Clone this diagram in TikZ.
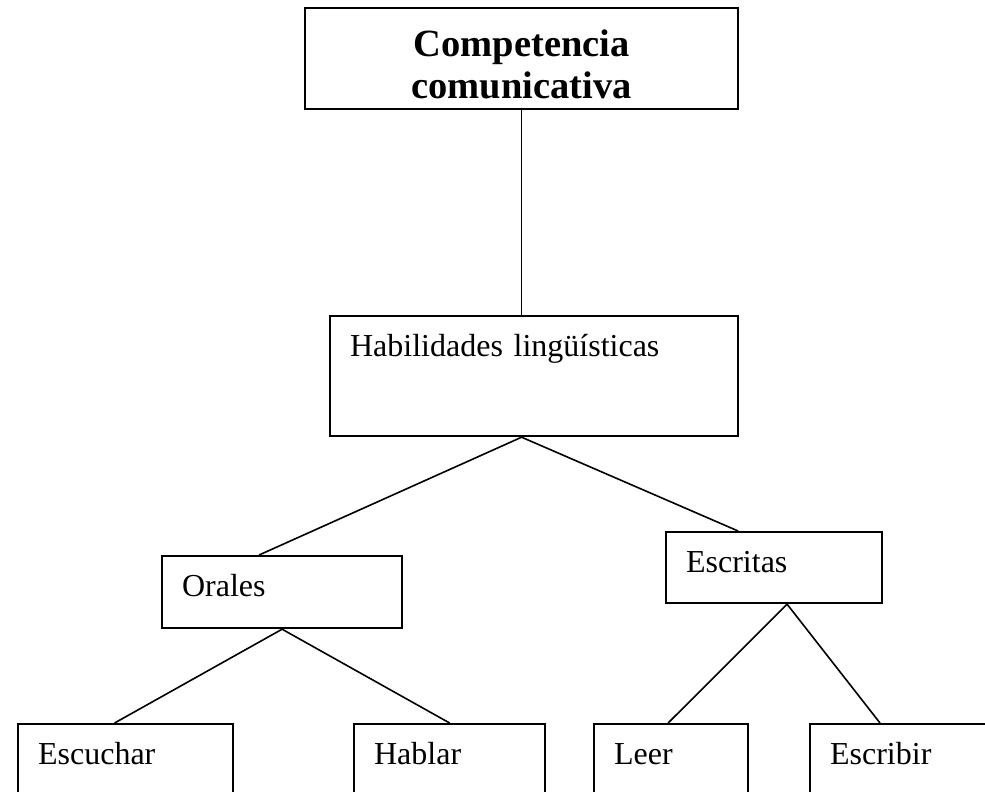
\documentclass[tikz,border=0pt]{standalone}
\usepackage{fontspec}
\setmainfont{Liberation Serif}
\usepackage{tikz}
\usetikzlibrary{positioning,calc}
\tikzstyle{caja} = [draw, line width=2.2pt, rectangle, anchor=north west, inner ysep=0pt, inner xsep=20pt, text height=40pt, align=left, font=\fontsize{32}{38}\selectfont]
\tikzstyle{titulo} = [caja, align=center, text height=48pt, font=\bfseries\fontsize{38.5}{42}\selectfont]
\tikzstyle{linea} = [line width=1.6pt]

\begin{document}
\begin{tikzpicture}[x=1pt, y=-1pt]
\useasboundingbox (0,0) rectangle (985,792);

% Boxes
\node[titulo, text width=393pt, text depth=53pt] (comp) at (304,7) {Competencia\\comunicativa};
\node[caja, text width=368pt, text depth=80pt] (hab) at (329,315) {Habilidades lingüísticas};
\node[caja, text width=200pt, text depth=32pt] (orales) at (161,555) {Orales};
\node[caja, text width=176pt, text depth=31pt] (escritas) at (665,531) {Escritas};
\node[caja, text width=175pt, text depth=40pt] (escuchar) at (17,723) {Escuchar};
\node[caja, text width=151pt, text depth=40pt] (hablar) at (353,723) {Hablar};
\node[caja, text width=114pt, text depth=40pt] (leer) at (593,723) {Leer};
\node[caja, text width=145pt, text depth=40pt] (escribir) at (809,723) {Escribir};

% Lines
\coordinate (hab-top) at (comp.south |- hab.north);
\coordinate (hab-bot) at (comp.south |- hab.south);
\draw[linea] (comp.south) -- (hab-top);
\draw[linea] ([xshift=-23pt]orales.north) -- (hab-bot) -- ([xshift=-36pt]escritas.north);
\draw[linea] ([xshift=-11pt]escuchar.north) -- (orales.south) -- (hablar.north);
\draw[linea] ([xshift=-3pt]leer.north) -- ([xshift=13pt]escritas.south) -- ([xshift=71pt]escribir.north west);
\end{tikzpicture}
\end{document}
